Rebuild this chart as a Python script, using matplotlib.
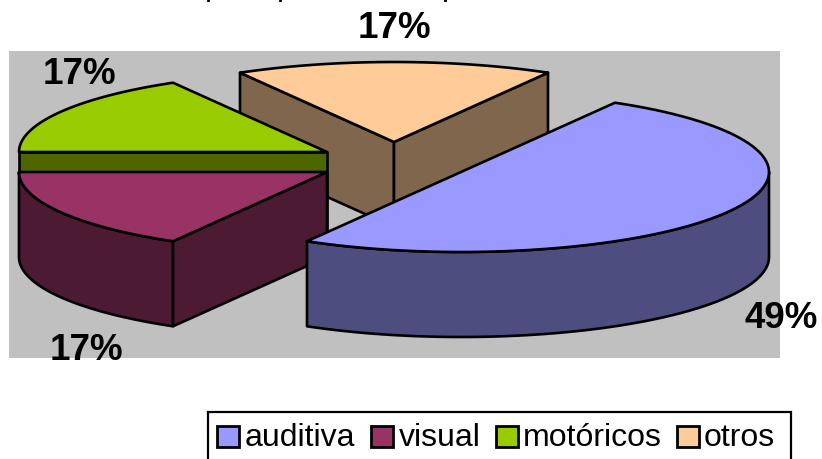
"""
Exploded 3D-look pie chart, drawn as flat polygons on pixel-sized axes.
"""
import numpy as np
import matplotlib
matplotlib.use("Agg")
import matplotlib.pyplot as plt
from matplotlib.patches import Polygon, Rectangle

plt.rcParams['font.family'] = ['Liberation Sans', 'DejaVu Sans']

CATEGORIES = ["auditiva", "visual", "motóricos", "otros"]
SHARES = [3, 1, 1, 1]
PERCENT_LABELS = ["49%", "17%", "17%", "17%"]
TOP_COLORS = ["#9999ff", "#993366", "#99cc00", "#ffcc99"]
SIDE_COLORS = ["#4d4d80", "#4d1a33", "#4d6600", "#80664d"]

# where each exploded slice sits, in pixels
CENTERS = [(461, 172), (327, 172), (327, 152), (394, 142)]
LABEL_POS = [(781, 319), (86, 351), (79, 75), (394, 29)]
# the title is cut off by the top edge, only these descenders show
TITLE_P_X = [208.7, 280, 445]
RX, RY = 308, 80
DEPTH = 85
START = 60


def arc(center, a0, a1, n=80):
    t = np.radians(np.linspace(a0, a1, n))
    return np.column_stack([center[0] + RX * np.cos(t),
                            center[1] - RY * np.sin(t)])


def face(ax, pts, color):
    ax.add_patch(Polygon(pts, closed=True, facecolor=color, edgecolor="black",
                         linewidth=1.9, joinstyle="round"))


def draw_slice(ax, i, a0, a1):
    c = np.array(CENTERS[i], dtype=float)
    down = np.array([0, DEPTH])
    rim = arc(c, a0, a1)

    # outer wall, only the part turned towards the viewer
    lo, hi = max(a1, -180), min(a0, 0)
    if hi - lo > 1:
        wall = arc(c, lo, hi)
        face(ax, np.vstack([wall, (wall + down)[::-1]]), SIDE_COLORS[i])

    # flat faces below the straight edges, skip those turned away
    if np.cos(np.radians(a0)) < 0:
        face(ax, [c, rim[0], rim[0] + down, c + down], SIDE_COLORS[i])
    if np.cos(np.radians(a1)) > 0:
        face(ax, [c, rim[-1], rim[-1] + down, c + down], SIDE_COLORS[i])

    face(ax, np.vstack([[c], rim]), TOP_COLORS[i])


fig = plt.figure(figsize=(8.22, 4.59), dpi=100)
ax = fig.add_axes([0, 0, 1, 1])
ax.set_xlim(0, 822)
ax.set_ylim(459, 0)
ax.axis("off")

ax.add_patch(Rectangle((9, 51), 771, 307, facecolor="#c0c0c0", edgecolor="none"))

# angle range of every slice, clockwise from START
ends = START - np.cumsum(SHARES) / np.sum(SHARES) * 360
starts = np.r_[START, ends[:-1]]

# back to front
for i in [3, 2, 1, 0]:
    draw_slice(ax, i, starts[i], ends[i])

for pos, label in zip(LABEL_POS, PERCENT_LABELS):
    ax.text(pos[0], pos[1], label, fontsize=26.5, fontweight="bold",
            ha="center", va="center", color="black")

for x in TITLE_P_X:
    ax.text(x - 3.5, -4.5, "p", fontsize=23, ha="left", va="baseline", color="black")

# legend box, cut by the lower edge of the picture
ax.add_patch(Rectangle((208, 412), 583, 60, facecolor="white", edgecolor="black",
                       linewidth=1.6))
SWATCH_X = [217, 371, 496, 677]
TEXT_X = [245, 399, 523, 704]
for sx, tx, name, color in zip(SWATCH_X, TEXT_X, CATEGORIES, TOP_COLORS):
    ax.add_patch(Rectangle((sx, 426), 22, 21, facecolor=color, edgecolor="black",
                           linewidth=2.0))
    ax.text(tx, 438, name, fontsize=23, ha="left", va="center", color="black")

fig.savefig("out.png", dpi=100)
